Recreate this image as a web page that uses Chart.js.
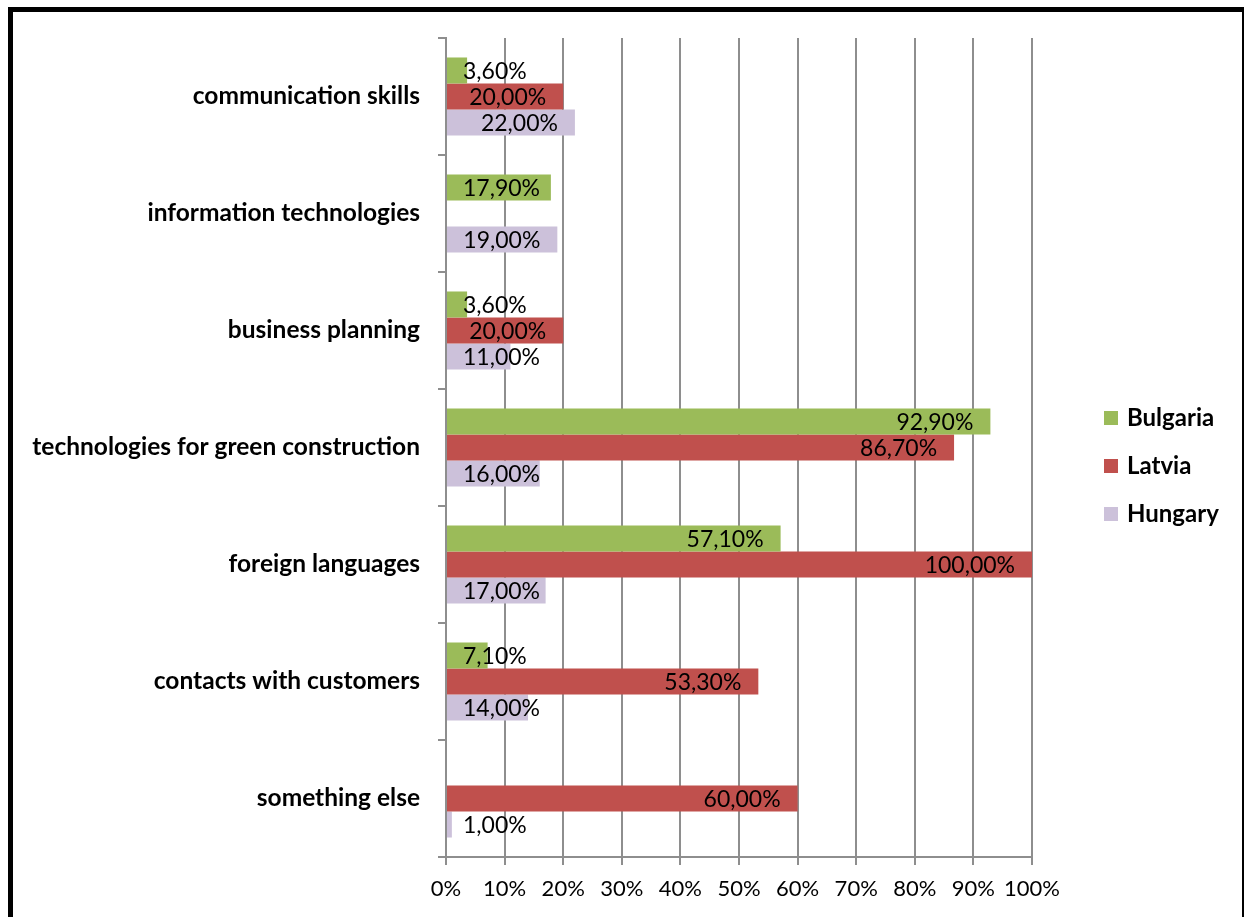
<!DOCTYPE html>
<html>
<head>
<meta charset="utf-8">
<script src="https://cdn.jsdelivr.net/npm/chart.js@4"></script>
<style>
  html, body { margin: 0; padding: 0; background: #fff; overflow: hidden; }
  #wrap { position: relative; width: 1244px; height: 917px; }
  #frame { position: absolute; left: 8px; top: 7px; width: 1236px; height: 1000px; box-sizing: border-box;
           border-top: 5px solid #000; border-left: 5px solid #000; border-right: 2px solid #000; pointer-events: none; }
  canvas { position: absolute; left: 0; top: 0; }
</style>
</head>
<body>
<div id="wrap">
  <canvas id="c" width="1244" height="917"></canvas>
  <div id="frame"></div>
</div>
<script>
const categories = [
  "communication skills",
  "information technologies",
  "business planning",
  "technologies for green construction",
  "foreign languages",
  "contacts with customers",
  "something else"
];
const bulgaria = [3.6, 17.9, 3.6, 92.9, 57.1, 7.1, null];
const latvia   = [20.0, null, 20.0, 86.7, 100.0, 53.3, 60.0];
const hungary  = [22.0, 19.0, 11.0, 16.0, 17.0, 14.0, 1.0];
const seriesNames = ["Bulgaria", "Latvia", "Hungary"];
const seriesColors = ["#9BBB59", "#C0504D", "#CCC1DA"];
const xTicks = [0, 10, 20, 30, 40, 50, 60, 70, 80, 90, 100];

const FONT = "Lato, 'Open Sans', sans-serif";
const GRID = "#8e8e8e";

const labelPlugin = {
  id: "valueLabels",
  afterDatasetsDraw(chart) {
    const ctx = chart.ctx;
    ctx.save();
    ctx.font = "23px " + FONT;
    ctx.fillStyle = "#000";
    ctx.textBaseline = "middle";
    ctx.textAlign = "left";
    chart.data.datasets.forEach((ds, di) => {
      const meta = chart.getDatasetMeta(di);
      meta.data.forEach((bar, i) => {
        const v = ds.data[i];
        if (v === null || v === undefined) return;
        const txt = v.toFixed(2).replace(".", ",") + "%";
        const w = ctx.measureText(txt).width;
        const base = bar.base;
        let right = bar.x - 17;
        if (right - w < base + 16) right = base + 16 + w;
        ctx.fillText(txt, right - w, bar.y + 1);
      });
    });
    ctx.restore();
  }
};

const legendPlugin = {
  id: "sideLegend",
  afterDraw(chart) {
    const ctx = chart.ctx;
    const cy = (chart.chartArea.top + chart.chartArea.bottom) / 2 + 18;
    const step = 48;
    const n = chart.data.datasets.length;
    ctx.save();
    ctx.font = "bold 24px " + FONT;
    ctx.textBaseline = "middle";
    ctx.textAlign = "left";
    chart.data.datasets.forEach((ds, i) => {
      const y = cy + (i - (n - 1) / 2) * step;
      ctx.fillStyle = ds.backgroundColor;
      ctx.fillRect(1104, Math.round(y - 7), 14, 14);
      ctx.fillStyle = "#000";
      ctx.fillText(ds.label, 1127, y + 1);
    });
    ctx.restore();
  }
};

new Chart(document.getElementById("c"), {
  type: "bar",
  data: {
    labels: categories,
    datasets: seriesNames.map((name, i) => ({
      label: name,
      data: [bulgaria, latvia, hungary][i],
      backgroundColor: seriesColors[i]
    }))
  },
  options: {
    indexAxis: "y",
    responsive: false,
    animation: false,
    devicePixelRatio: 1,
    datasets: { bar: { categoryPercentage: 0.667, barPercentage: 1.0, borderWidth: 0 } },
    layout: { padding: { top: 38, left: 0, right: 212, bottom: 0 } },
    plugins: {
      legend: { display: false },
      tooltip: { enabled: false },
      title: { display: false }
    },
    scales: {
      x: {
        min: 0, max: 100,
        afterBuildTicks(scale) { scale.ticks = xTicks.map(v => ({ value: v })); },
        afterFit(scale) { scale.height = 60; },
        ticks: {
          color: "#000", padding: 11, maxRotation: 0, minRotation: 0, autoSkip: false,
          font: { family: FONT, size: 22 },
          callback: v => v + "%"
        },
        grid: { color: GRID, lineWidth: 2, tickLength: 8, drawOnChartArea: true },
        border: { color: GRID, width: 2 }
      },
      y: {
        afterFit(scale) { scale.width = 446; },
        ticks: {
          color: "#000", padding: 18,
          font: { family: FONT, size: 24.5, weight: "bold" }
        },
        grid: { offset: true, color: GRID, lineWidth: 2, tickLength: 8, drawOnChartArea: false },
        border: { color: GRID, width: 2 }
      }
    }
  },
  plugins: [labelPlugin, legendPlugin]
});
</script>
</body>
</html>
